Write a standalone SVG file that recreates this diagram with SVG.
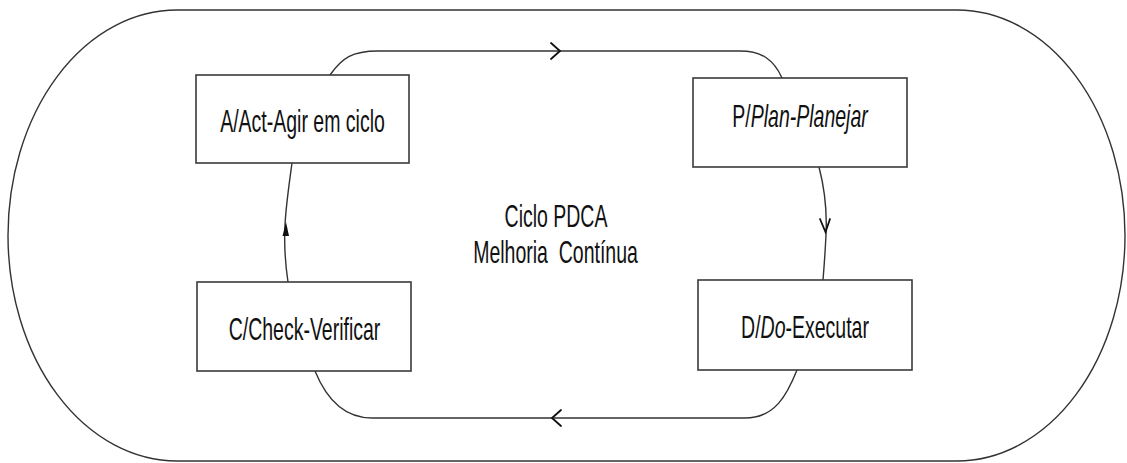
<svg xmlns="http://www.w3.org/2000/svg" width="1127" height="463" viewBox="0 0 1127 463">
  <style>
    .frame { fill: none; stroke: #333; stroke-width: 1.4; }
    .box { fill: #fff; stroke: #3a3a3a; stroke-width: 1.6; }
    .link { fill: none; stroke: #333; stroke-width: 1.4; }
    .head { fill: none; stroke: #111; stroke-width: 1.8; stroke-linecap: round; stroke-linejoin: miter; }
    .label { font-family: "Liberation Sans", Arial, sans-serif; font-size: 19.5px; fill: #111; text-anchor: middle; }
    .it { font-style: italic; }
  </style>
  <defs>
    <!-- open chevron pointing along +x, tip at origin -->
    <path id="chev" d="M-9,-8 L0,0 L-9,8"/>
  </defs>

  <rect width="1127" height="463" fill="#fff"/>

  <!-- outer rounded band -->
  <path class="frame" d="M177,10 L957,10 A168,225.5 0 0 1 957,461 L177,461 A169,225.5 0 0 1 177,10 Z"/>

  <!-- connectors between the four stages -->
  <g id="connectors">
    <!-- Act -> Plan (top) -->
    <path class="link" d="M330,75 C342,58 352,51 378,51 L740,51 C762,51 774,60 782,78"/>
    <use href="#chev" class="head" transform="translate(560,51)"/>
    <!-- Plan -> Do (right) -->
    <path class="link" d="M819,167 C825,190 827,215 826,235 C825,255 824,268 823,280"/>
    <path class="head" d="M820,219 L825.5,232 L830,219"/>
    <!-- Do -> Check (bottom) -->
    <path class="link" d="M797,370 C787,395 775,418 745,418 L372,418 C343,418 326,398 315,371"/>
    <use href="#chev" class="head" transform="translate(552,418) rotate(180)"/>
    <!-- Check -> Act (left) -->
    <path class="link" d="M288,282 C285,262 284,245 285,225 C286,205 289,185 292,163"/>
    <path d="M286,222 L282.5,236 L289,236 Z" fill="#111"/>
  </g>

  <g id="node-act">
    <rect class="box" x="196" y="75" width="213" height="88"/>
    <text class="label" transform="translate(302.5,132) scale(1,1.6)">A/Act-Agir em ciclo</text>
  </g>

  <g id="node-plan">
    <rect class="box" x="693" y="78" width="214" height="89"/>
    <text class="label" transform="translate(800,127) scale(1,1.6)">P/<tspan class="it">Plan-Planejar</tspan></text>
  </g>

  <g id="node-check">
    <rect class="box" x="197" y="282" width="214" height="89"/>
    <text class="label" transform="translate(304.5,340) scale(1,1.6)">C/Check-Verificar</text>
  </g>

  <g id="node-do">
    <rect class="box" x="698" y="280" width="214" height="90"/>
    <text class="label" transform="translate(805,338) scale(1,1.6)">D/<tspan class="it">Do</tspan>-Executar</text>
  </g>

  <g id="title">
    <text class="label" transform="translate(556,227) scale(1,1.6)">Ciclo PDCA</text>
    <text class="label" xml:space="preserve" transform="translate(555.5,263) scale(1,1.6)">Melhoria  Contínua</text>
  </g>
</svg>
